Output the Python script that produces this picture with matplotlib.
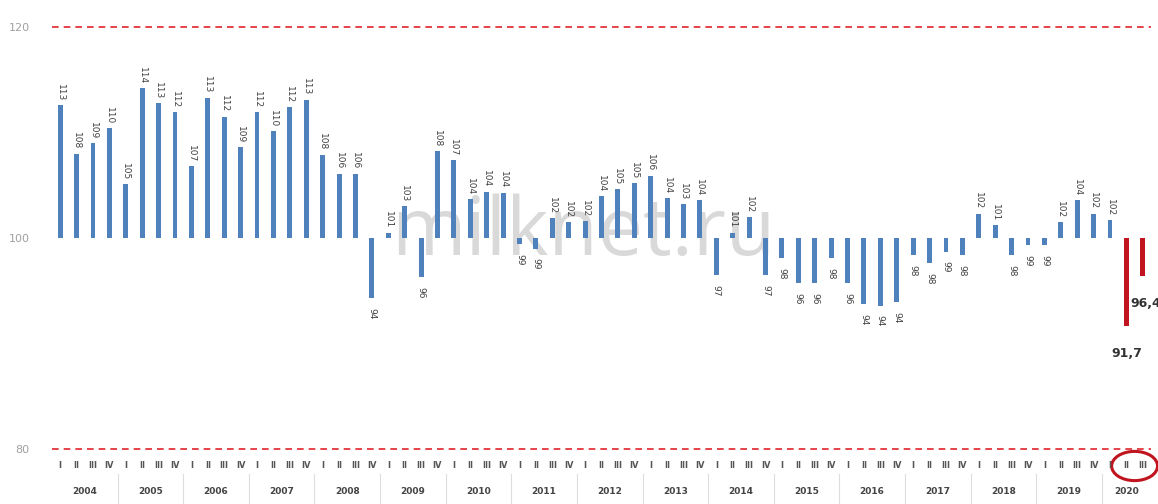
import numpy as np
import matplotlib
matplotlib.use("Agg")
import matplotlib.pyplot as plt
from matplotlib.transforms import blended_transform_factory
from matplotlib.patches import Ellipse

# === DATA ===
YEARS = [str(y) for y in range(2004, 2021)]
QUARTERS = ['I', 'II', 'III', 'IV']
QUARTERS_2020 = ['I', 'II', 'III']

VALUES = [
    112.6, 108.0, 109.0, 110.4,
    105.1, 114.2, 112.8, 111.9,
    106.8, 113.3, 111.5, 108.6,
    111.9, 110.1, 112.4, 113.1,
    107.9, 106.1, 106.1, 94.3,
    100.5, 103.0, 96.3, 108.2,
    107.4, 103.7, 104.4, 104.3,
    99.4, 99.0, 101.9, 101.5,
    101.6, 104.0, 104.6, 105.2,
    105.9, 103.8, 103.2, 103.6,
    96.5, 100.5, 102.0, 96.5,
    98.1, 95.7, 95.7, 98.1,
    95.7, 93.7, 93.6, 93.9,
    98.4, 97.6, 98.7, 98.4,
    102.3, 101.2, 98.4, 99.3,
    99.3, 101.5, 103.6, 102.3,
    101.7, 91.7, 96.4,
]
HIGHLIGHT = [65, 66]          # last two quarters drawn in red
HIGHLIGHT_LABELS = ['91,7', '96,4']

BASE = 100
BLUE = '#4f81bd'
RED = '#c0141e'

# === FIGURE ===
fig = plt.figure(figsize=(11.58, 5.04), dpi=100)
fig.patch.set_facecolor('white')
ax = fig.add_axes([52 / 1158, 1 - 449 / 504, 1099 / 1158, 422 / 504])

x = np.arange(len(VALUES))
vals = np.array(VALUES)
colors = [RED if i in HIGHLIGHT else BLUE for i in x]
ax.bar(x, vals - BASE, bottom=BASE, width=0.3, color=colors, zorder=2)

ax.set_xlim(-0.5, len(VALUES) - 0.5)
ax.set_ylim(80, 120)
for s in ax.spines.values():
    s.set_visible(False)
ax.set_xticks([])
ax.set_yticks([80, 100, 120])
ax.tick_params(axis='y', length=0, labelsize=8, labelcolor='#a0a0a0', pad=16)

for yv in (80, 120):
    ax.axhline(yv, color='#e0242c', lw=1.2, ls=(0, (4, 3)), clip_on=False, zorder=1)

# value labels
for i, v in enumerate(vals):
    if i in HIGHLIGHT:
        continue
    lab = str(int(np.floor(v + 0.5)))
    if v >= BASE:
        ax.annotate(lab, (i, v), xytext=(0, 3), textcoords='offset points',
                    rotation=270, ha='center', va='bottom', fontsize=6.5, color='#404040',
                    zorder=4)
    else:
        ax.annotate(lab, (i, v), xytext=(0, -7), textcoords='offset points',
                    rotation=270, ha='center', va='top', fontsize=6.5, color='#404040',
                    zorder=4)

ax.annotate(HIGHLIGHT_LABELS[0], (HIGHLIGHT[0], vals[HIGHLIGHT[0]]), xytext=(0, -20),
            textcoords='offset points', ha='center', va='center',
            fontsize=9, fontweight='bold', color='#333333', annotation_clip=False)
ax.annotate(HIGHLIGHT_LABELS[1], (HIGHLIGHT[1], vals[HIGHLIGHT[1]]), xytext=(-9, -20),
            textcoords='offset points', ha='left', va='center',
            fontsize=9, fontweight='bold', color='#333333', annotation_clip=False)

# watermark (behind the bars)
ax.text(31.9, 98.4, 'milknet.ru', ha='center', va='baseline', fontsize=58,
        color='#d9d9d9', zorder=1, family='Open Sans')

# === CATEGORY AXIS (quarters / years) ===
tr = blended_transform_factory(ax.transData, fig.transFigure)
pos = 0
for year in YEARS:
    qs = QUARTERS_2020 if year == '2020' else QUARTERS
    for q in qs:
        fig.text(pos, 1 - 466 / 504, q, transform=tr, ha='center', va='center',
                 fontsize=6, fontweight='bold', color='#555555')
        pos += 1
    start = pos - len(qs)
    fig.text((start + pos - 1) / 2, 1 - 492 / 504, year, transform=tr, ha='center',
             va='center', fontsize=6.5, fontweight='bold', color='#444444')
    if year != '2020':
        fig.add_artist(plt.Line2D([pos - 0.5, pos - 0.5], [0.0, 0.06], transform=tr,
                                  color='#dddddd', lw=0.8))

fig.add_artist(Ellipse((65.5, 1 - 466 / 504), 2.8, 0.058, transform=tr,
                       fill=False, edgecolor='#c0141e', lw=2.2))

fig.savefig('out.png', dpi=100, facecolor=fig.get_facecolor())
